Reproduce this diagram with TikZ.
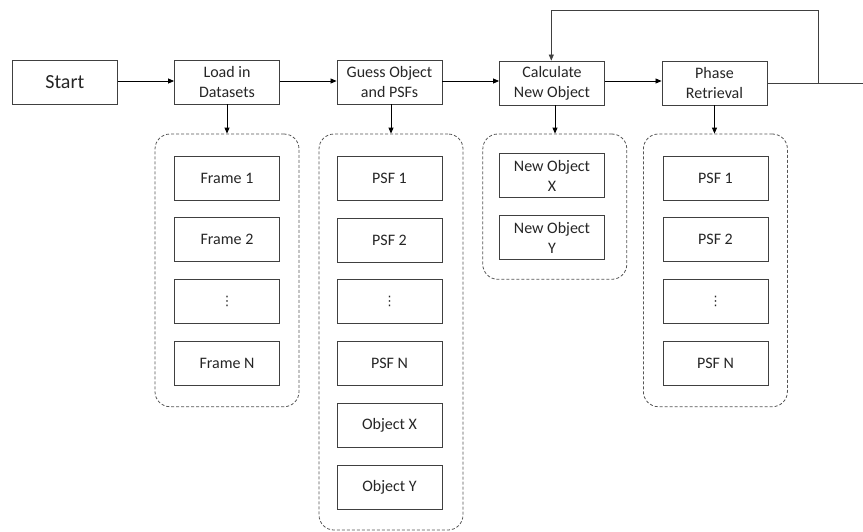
\documentclass[tikz,border=0pt]{standalone}
\usepackage{fontspec}
\setmainfont{Carlito}
\newfontfamily\dejavu{DejaVu Sans}
\usetikzlibrary{arrows.meta}
\definecolor{boxline}{HTML}{404040}
\definecolor{txt}{HTML}{262626}
\definecolor{dashline}{HTML}{555555}
\newcommand{\vdotsglyph}{{\dejavu\fontsize{13}{13}\selectfont ⋮}}
\begin{document}
\begin{tikzpicture}[x=1pt,y=-1pt,
  box/.style={draw=boxline,line width=0.85pt,fill=white,minimum width=105pt,minimum height=44pt,
    inner sep=0pt,align=center,text=txt,font=\fontsize{16}{20}\selectfont},
  grp/.style={draw=dashline,line width=0.8pt,dash pattern=on 3pt off 2pt,rounded corners=15pt,
    minimum width=144pt,inner sep=0pt},
  arr/.style={draw=black,line width=0.8pt,-{Triangle[length=6pt,width=5pt]}},
  ln/.style={draw=boxline,line width=0.85pt}]
\useasboundingbox (0,0) rectangle (863,531);
% containers
\node[grp,minimum height=272.7pt] (gL) at (227,270.35) {};
\node[grp,minimum height=396pt] (gG) at (391,332) {};
\node[grp,minimum height=145.3pt] (gC) at (554.8,206.65) {};
\node[grp,minimum height=272.7pt] (gP) at (715.4,270.35) {};
% main row
\node[box,font=\fontsize{20}{24}\selectfont] (start) at (64.8,82) {Start};
\node[box] (load) at (227,82) {Load in\\Datasets};
\node[box] (guess) at (389.5,82) {Guess Object\\and PSFs};
\node[box] (calc) at (552,83) {Calculate\\New Object};
\node[box] (phase) at (714.5,83) {Phase\\Retrieval};
% load column
\node[box] (f1) at (227,178.3) {Frame 1};
\node[box] (f2) at (227,239.7) {Frame 2};
\node[box] (fd) at (227,301.7) {\vdotsglyph};
\node[box] (fn) at (227,363) {Frame N};
% guess column
\node[box] (p1) at (389.5,178.3) {PSF 1};
\node[box] (p2) at (389.5,240) {PSF 2};
\node[box] (pd) at (389.5,301.7) {\vdotsglyph};
\node[box] (pn) at (389.5,363.7) {PSF N};
\node[box] (ox) at (389.5,425.3) {Object X};
\node[box] (oy) at (389.5,487.2) {Object Y};
% calc column
\node[box] (nx) at (552,175.7) {New Object\\X};
\node[box] (ny) at (552,237.7) {New Object\\Y};
% phase column
\node[box] (q1) at (715.5,178.3) {PSF 1};
\node[box] (q2) at (715.5,239.7) {PSF 2};
\node[box] (qd) at (715.5,301.7) {\vdotsglyph};
\node[box] (qn) at (715.5,363) {PSF N};
% connectors
\draw[arr] (start.east |- 0,81) -- (load.west |- 0,81);
\draw[arr] (load.east |- 0,81) -- (guess.west |- 0,81);
\draw[arr] (guess.east |- 0,81) -- (calc.west |- 0,81);
\draw[arr] (calc.east |- 0,81) -- (phase.west |- 0,81);
\draw[arr] (load.south) -- (load.south |- gL.north);
\draw[arr] (guess.south -| 391,0) -- (gG.north);
\draw[arr] (calc.south -| 555,0) -- (555,0 |- gC.north);
\draw[arr] (phase.south) -- (phase.south |- gP.north);
\coordinate (fbr) at (818,83);
\coordinate (out) at (863,83);
\draw[ln] (phase.east |- fbr) -- (out);
\draw[arr,draw=boxline] (fbr) -- (818,10.3) -- (551.3,10.3) -- (calc.north -| 551.3,0);
\end{tikzpicture}
\end{document}
